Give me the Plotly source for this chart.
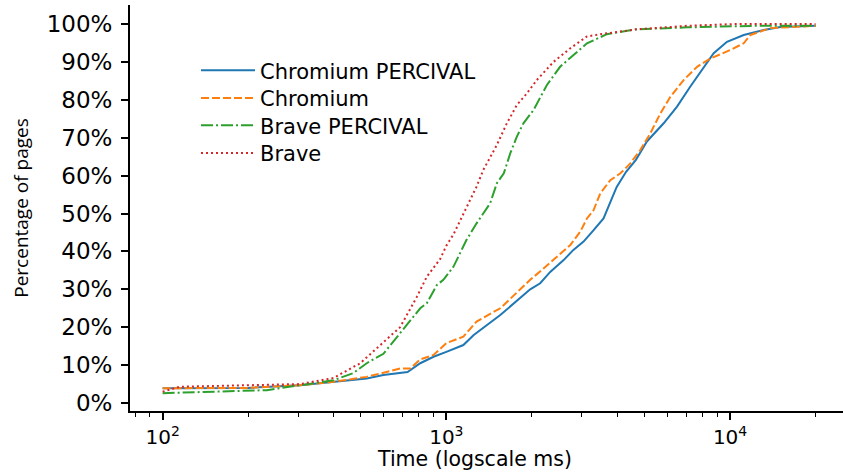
import plotly.graph_objects as go

# ---- data ----
chromium_perc_x = [100, 200, 305, 400, 524, 600, 687, 730, 809, 901, 1000, 1148, 1246, 1549, 1975, 2142, 2323,
                   2590, 2804, 3045, 3304, 3581, 3784, 3985, 4300, 4650, 4893, 5091, 5833, 6502, 7244, 8070,
                   8755, 9752, 11170, 13140, 15050, 20000]
chromium_perc_y = [3.9, 4.0, 4.7, 5.6, 6.5, 7.4, 8.0, 8.2, 10.5, 12.2, 13.5, 15.3, 17.9, 23.2, 30.0, 31.6, 34.6,
                   37.7, 40.4, 42.6, 45.6, 48.7, 53.0, 57.0, 61.0, 64.1, 66.8, 69.0, 73.8, 78.2, 83.5, 88.7,
                   92.3, 95.3, 97.1, 98.4, 99.2, 99.5]

chromium_x = [100, 200, 305, 400, 524, 687, 745, 809, 901, 1000, 1148, 1278, 1549, 1975, 2200, 2456, 2736,
              2964, 3130, 3304, 3487, 3784, 4106, 4450, 4830, 5240, 5680, 6160, 6860, 7650, 8530, 10000,
              11170, 11790, 13870, 20000]
chromium_y = [3.9, 4.0, 4.7, 5.6, 6.9, 9.1, 9.1, 11.5, 12.7, 15.8, 17.5, 21.5, 25.0, 32.5, 35.5, 38.6, 41.7,
              45.2, 48.7, 50.9, 55.3, 58.8, 60.6, 63.2, 66.8, 71.2, 76.4, 80.8, 85.2, 88.7, 90.9, 93.1,
              94.9, 97.1, 98.9, 99.5]

brave_perc_x = [100, 233, 305, 400, 470, 524, 600, 687, 745, 809, 853, 925, 976, 1060, 1177, 1278, 1427,
                1507, 1594, 1680, 1772, 1869, 2029, 2142, 2262, 2517, 2804, 3130, 3680, 4697, 7047, 12110,
                20000]
brave_perc_y = [2.6, 3.4, 4.7, 6.0, 7.9, 10.5, 13.0, 18.4, 21.5, 25.0, 26.3, 31.1, 32.5, 36.0, 43.0, 47.4, 52.7,
                58.0, 60.6, 65.9, 70.3, 73.8, 77.3, 80.8, 83.9, 88.7, 91.8, 94.9, 97.3, 98.6, 99.1, 99.5,
                99.5]

brave_x = [100, 115, 305, 400, 497, 687, 787, 853, 951, 1000, 1060, 1177, 1278, 1350, 1427, 1507, 1634, 1772,
           1923, 2083, 2387, 2736, 3130, 3581, 4697, 7047, 10590, 20000]
brave_y = [3.0, 4.3, 5.0, 6.6, 10.5, 20.0, 28.0, 33.3, 38.0, 41.5, 44.5, 51.8, 57.1, 61.5, 65.0, 68.1, 73.8, 78.6,
           81.7, 85.2, 90.0, 93.6, 96.7, 97.4, 98.6, 99.5, 100.0, 100.0]

series_names = ["Chromium PERCIVAL", "Chromium", "Brave PERCIVAL", "Brave"]

y_tick_vals = [0, 10, 20, 30, 40, 50, 60, 70, 80, 90, 100]
y_tick_text = ["0%", "10%", "20%", "30%", "40%", "50%", "60%", "70%", "80%", "90%", "100%"]
x_tick_vals = [100, 1000, 10000]
x_tick_text = ["10<sup>2</sup>", "10<sup>3</sup>", "10<sup>4</sup>"]
x_minor_vals = [80, 90, 200, 300, 400, 500, 600, 700, 800, 900,
                2000, 3000, 4000, 5000, 6000, 7000, 8000, 9000, 20000]
x_title = "Time (logscale ms)"
y_title = "Percentage of pages"

# ---- styling ----
colors = ["#1f77b4", "#ff7f0e", "#2ca02c", "#d62728"]
dashes = ["solid", "8px,3px", "12px,3px,2px,3px", "2px,3px"]
FONT = "DejaVu Sans"

# one legend per entry so each row sits at the reference's spacing
legend_ids = ["legend", "legend2", "legend3", "legend4"]
legend_row_px = [70.7, 98.3, 125.7, 153.3]
PLOT_TOP, PLOT_H, FIG_H = 5, 406, 472

fig = go.Figure()
for name, xs, ys, c, d, lid in zip(series_names,
                                   [chromium_perc_x, chromium_x, brave_perc_x, brave_x],
                                   [chromium_perc_y, chromium_y, brave_perc_y, brave_y],
                                   colors, dashes, legend_ids):
    fig.add_trace(go.Scatter(x=xs, y=ys, mode="lines", name=name, legend=lid,
                             line=dict(color=c, width=2, dash=d)))

legend_layout = {}
for lid, py in zip(legend_ids, legend_row_px):
    legend_layout[lid] = dict(
        x=0.0926, y=1 - (py - PLOT_TOP) / PLOT_H, xanchor="left", yanchor="middle",
        bgcolor="rgba(0,0,0,0)", font=dict(family=FONT, size=21),
        itemwidth=54, tracegroupgap=0,
    )

fig.update_layout(
    width=843, height=FIG_H,
    margin=dict(l=130, r=0, t=PLOT_TOP, b=FIG_H - PLOT_TOP - PLOT_H),
    paper_bgcolor="white", plot_bgcolor="white",
    font=dict(family=FONT, color="black"),
    showlegend=True,
    **legend_layout,
)

# x-axis title placed as a paper annotation so it hugs the bottom edge like the reference
fig.add_annotation(
    text=x_title, xref="paper", yref="paper",
    x=(474 - 130) / 713, y=1 - (FIG_H - PLOT_TOP) / PLOT_H,
    xanchor="center", yanchor="bottom", showarrow=False, borderpad=0,
    font=dict(family=FONT, size=20.5, color="black"),
)

fig.update_xaxes(
    type="log", range=[1.885, 4.398],
    showgrid=False, zeroline=False,
    showline=True, linecolor="black", linewidth=2,
    ticks="outside", ticklen=7, tickwidth=1.5, tickcolor="black",
    tickmode="array", tickvals=x_tick_vals, ticktext=x_tick_text,
    tickfont=dict(family=FONT, size=20),
    minor=dict(tickmode="array", tickvals=x_minor_vals, ticks="outside",
               ticklen=4, tickwidth=1.2, tickcolor="black", showgrid=False),
)

fig.update_yaxes(
    range=[-2.1, 105.0],
    showgrid=False, zeroline=False,
    showline=True, linecolor="black", linewidth=2,
    ticks="outside", ticklen=7, tickwidth=1.5, tickcolor="black",
    tickmode="array", tickvals=y_tick_vals, ticktext=y_tick_text,
    tickfont=dict(family=FONT, size=23),
    ticklabelstandoff=4,
    title=dict(text=y_title, font=dict(family="Open Sans", size=19), standoff=13),
)

fig.write_html("out.html")
